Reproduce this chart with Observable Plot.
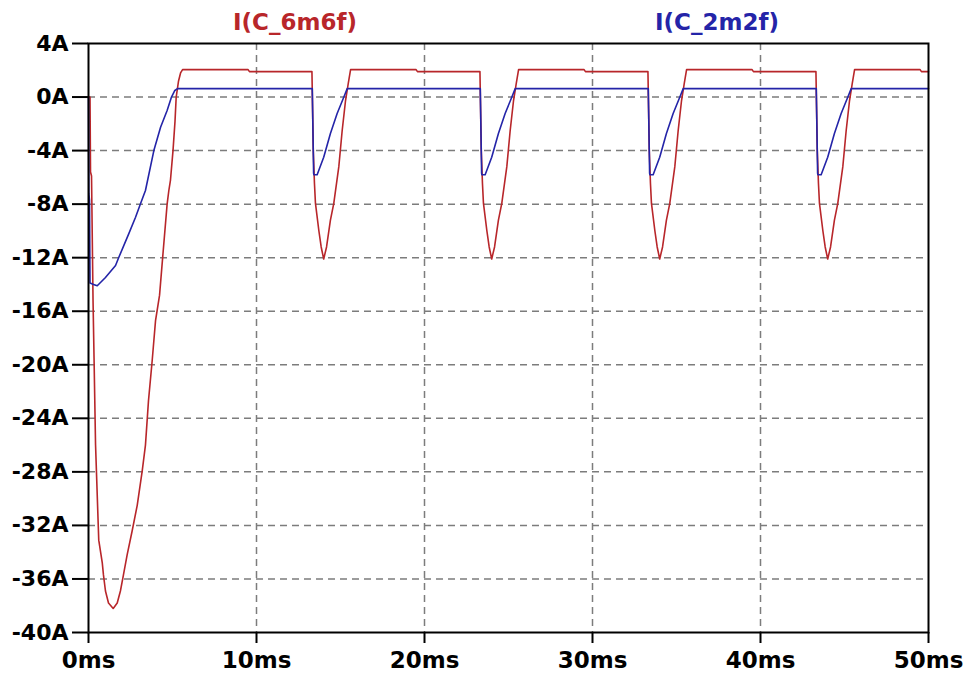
<!DOCTYPE html>
<html><head><meta charset="utf-8">
<script src="https://cdn.jsdelivr.net/npm/d3@7"></script>
<script src="https://cdn.jsdelivr.net/npm/@observablehq/plot@0.6"></script>
<style>
body{margin:0;background:#fff;}
#wrap{position:relative;width:967px;height:676px;overflow:hidden;}
#titles{position:absolute;left:0;top:0;width:967px;height:40px;z-index:2;pointer-events:none;font-family:"DejaVu Sans";font-weight:bold;font-size:23px;}
.t{position:absolute;top:11px;transform:translateX(-50%);white-space:nowrap;line-height:1;}
#chart{position:absolute;left:0;top:28px;}
</style>
</head><body>
<div id="wrap">
  <div id="titles"></div>
  <div id="chart"></div>
</div>
<script>
// Series names and colours
const seriesNames = ["I(C_6m6f)", "I(C_2m2f)"];
const seriesColors = ["#b8262a", "#2424a8"];
const titleCenters = [295, 717];

// Axis ticks
const xTicks = [0, 10, 20, 30, 40, 50];
const yTicks = [-40, -36, -32, -28, -24, -20, -16, -12, -8, -4, 0, 4];
const xGrid = [10, 20, 30, 40];
const yGrid = [-36, -32, -28, -24, -20, -16, -12, -8, -4, 0];

// I(C_6m6f): time (ms) and current (A)
const redT = [
  0, 0.09, 0.12, 0.18, 0.27, 0.33, 0.42, 0.54, 0.61, 0.82, 0.89, 1.01, 1.19, 1.47, 1.71, 1.9, 2.08, 2.3, 2.6, 2.9, 3.2, 3.39, 3.57, 3.79, 3.99, 4.23, 4.42, 4.68, 4.78, 4.88, 5.03, 5.15, 5.22, 5.36, 5.48, 5.6, 9.5, 9.58,
  13.3, 13.33, 13.38, 13.45, 13.51, 13.71, 13.85, 14.0, 14.17, 14.4, 14.6, 14.9, 15.1, 15.3, 15.46, 15.6, 19.5, 19.58,
  23.3, 23.33, 23.38, 23.45, 23.51, 23.71, 23.85, 24.0, 24.17, 24.4, 24.6, 24.9, 25.1, 25.3, 25.46, 25.6, 29.5, 29.58,
  33.3, 33.33, 33.38, 33.45, 33.51, 33.71, 33.85, 34.0, 34.17, 34.4, 34.6, 34.9, 35.1, 35.3, 35.46, 35.6, 39.5, 39.58,
  43.3, 43.33, 43.38, 43.45, 43.51, 43.71, 43.85, 44.0, 44.17, 44.4, 44.6, 44.9, 45.1, 45.3, 45.46, 45.6, 49.5, 49.58,
  50
];
const redI = [
  0, 0, -5.6, -5.9, -15.2, -19.5, -26.0, -30.5, -33.1, -34.8, -35.7, -36.9, -37.8, -38.2, -37.8, -36.9, -35.7, -34.2, -32.4, -30.5, -27.9, -26.0, -22.7, -19.7, -16.7, -14.8, -11.9, -8.0, -7.0, -6.2, -4.0, -1.8, 0, 1.2, 1.8, 2.05, 2.05, 1.9,
  1.9, -0.3, -4.0, -6.46, -7.95, -9.97, -11.2, -12.1, -11.2, -9.2, -7.95, -5.2, -2.5, -0.26, 1.0, 2.05, 2.05, 1.9,
  1.9, -0.3, -4.0, -6.46, -7.95, -9.97, -11.2, -12.1, -11.2, -9.2, -7.95, -5.2, -2.5, -0.26, 1.0, 2.05, 2.05, 1.9,
  1.9, -0.3, -4.0, -6.46, -7.95, -9.97, -11.2, -12.1, -11.2, -9.2, -7.95, -5.2, -2.5, -0.26, 1.0, 2.05, 2.05, 1.9,
  1.9, -0.3, -4.0, -6.46, -7.95, -9.97, -11.2, -12.1, -11.2, -9.2, -7.95, -5.2, -2.5, -0.26, 1.0, 2.05, 2.05, 1.9,
  1.9
];

// I(C_2m2f): time (ms) and current (A)
const blueT = [
  0, 0.02, 0.06, 0.09, 0.3, 0.52, 1.01, 1.61, 1.8, 2.4, 2.8, 3.1, 3.39, 3.89, 4.29, 4.68, 4.94, 5.14, 5.3,
  13.32, 13.35, 13.4, 13.42, 13.61, 14.0, 14.4, 14.8, 15.2, 15.4,
  23.32, 23.35, 23.4, 23.42, 23.61, 24.0, 24.4, 24.8, 25.2, 25.4,
  33.32, 33.35, 33.4, 33.42, 33.61, 34.0, 34.4, 34.8, 35.2, 35.4,
  43.32, 43.35, 43.4, 43.42, 43.61, 44.0, 44.4, 44.8, 45.2, 45.4,
  50
];
const blueI = [
  0, -7.2, -7.7, -13.9, -14.0, -14.1, -13.48, -12.58, -11.99, -10.2, -8.98, -7.95, -6.98, -4.0, -2.26, -1.0, 0, 0.49, 0.63,
  0.63, -1.7, -5.7, -5.8, -5.8, -4.5, -2.73, -1.23, 0, 0.63,
  0.63, -1.7, -5.7, -5.8, -5.8, -4.5, -2.73, -1.23, 0, 0.63,
  0.63, -1.7, -5.7, -5.8, -5.8, -4.5, -2.73, -1.23, 0, 0.63,
  0.63, -1.7, -5.7, -5.8, -5.8, -4.5, -2.73, -1.23, 0, 0.63,
  0.63
];

const red = redT.map((t, j) => ({t, i: redI[j]}));
const blue = blueT.map((t, j) => ({t, i: blueI[j]}));

const titles = document.getElementById("titles");
seriesNames.forEach((name, k) => {
  const s = document.createElement("span");
  s.className = "t";
  s.textContent = name;
  s.style.color = seriesColors[k];
  s.style.left = titleCenters[k] + "px";
  titles.appendChild(s);
});

const gridStyle = {stroke: "#7c7c7c", strokeOpacity: 1, strokeWidth: 1.5, strokeDasharray: "7,5"};

const chart = Plot.plot({
  width: 967,
  height: 648,
  marginLeft: 88,
  marginRight: 39,
  marginTop: 15,
  marginBottom: 44,
  style: {fontFamily: "DejaVu Sans", fontWeight: "bold", fontSize: "22px", color: "#000", background: "transparent", overflow: "visible"},
  x: {domain: [0, 50], label: null},
  y: {domain: [-40, 4], label: null},
  marks: [
    Plot.gridX({...gridStyle, ticks: xGrid}),
    Plot.gridY({...gridStyle, ticks: yGrid}),
    Plot.line(red, {x: "t", y: "i", stroke: seriesColors[0], strokeWidth: 1.6}),
    Plot.line(blue, {x: "t", y: "i", stroke: seriesColors[1], strokeWidth: 1.6}),
    Plot.frame({stroke: "#000", strokeWidth: 2}),
    Plot.axisY({ticks: yTicks, tickFormat: d => `${d}A`, tickSize: 16, tickPadding: 4, strokeWidth: 2, fontSize: 22, fontWeight: "bold", label: null}),
    Plot.axisX({ticks: xTicks, tickFormat: d => `${d}ms`, tickSize: 11, tickPadding: 8, strokeWidth: 2, fontSize: 23, fontWeight: "bold", label: null})
  ]
});
document.getElementById("chart").appendChild(chart);
</script>
</body></html>
